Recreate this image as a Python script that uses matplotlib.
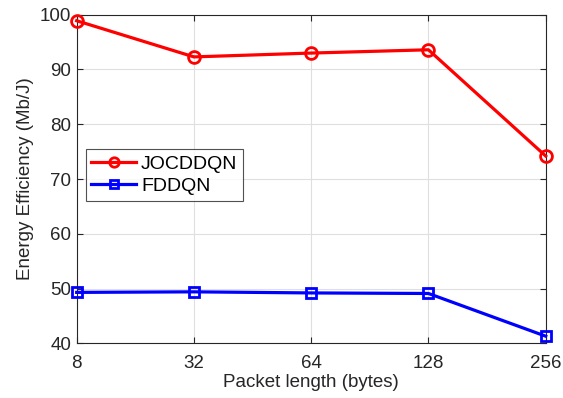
import matplotlib
matplotlib.use('Agg')
import matplotlib.pyplot as plt
import numpy as np

plt.rcParams['font.family'] = ['Liberation Sans', 'DejaVu Sans']

# ---- Data ----
packet_lengths = ['8', '32', '64', '128', '256']
jocddqn = [98.9, 92.3, 93.0, 93.6, 74.2]
fddqn = [49.3, 49.4, 49.2, 49.1, 41.3]

fig = plt.figure(figsize=(5.63, 3.98), dpi=100)
ax = fig.add_axes([0.1362, 0.1374, 0.8331, 0.8256])

x = np.arange(len(packet_lengths))
ax.plot(x, jocddqn, color='#FF0000', lw=2.3, marker='o', ms=8.5, mfc='none',
        mew=2.0, label='JOCDDQN', zorder=3, clip_on=False)
ax.plot(x, fddqn, color='#0000FF', lw=2.3, marker='s', ms=7.5, mfc='none',
        mew=2.0, label='FDDQN', zorder=3, clip_on=False)

ax.set_xlim(0, len(packet_lengths) - 1)
ax.set_ylim(40, 100)
ax.set_xticks(x)
ax.set_xticklabels(packet_lengths)
ax.set_yticks(range(40, 101, 10))
ax.grid(True, color='#DFDFDF', lw=0.8)
ax.set_axisbelow(True)
ax.tick_params(direction='in', length=4, width=0.8, labelsize=13.5,
               top=True, right=True, colors='#262626', labelcolor='#262626')
ax.tick_params(axis='x', pad=8.5)
ax.tick_params(axis='y', pad=4)
for s in ax.spines.values():
    s.set_color('#262626')
    s.set_linewidth(0.8)

ax.set_xlabel('Packet length (bytes)', fontsize=13.5, color='#262626', labelpad=1)
ax.set_ylabel('Energy Efficiency (Mb/J)', fontsize=13.5, color='#262626', labelpad=4)

leg = ax.legend(loc='upper left', bbox_to_anchor=(0.019, 0.591), fontsize=14,
                frameon=True, fancybox=False, edgecolor='#262626',
                handlelength=2.3, handletextpad=0.25, borderpad=0.3,
                labelspacing=0.25, borderaxespad=0, markerscale=0.8)
leg.get_frame().set_linewidth(0.8)

fig.savefig('out.png', dpi=100, facecolor='white')
